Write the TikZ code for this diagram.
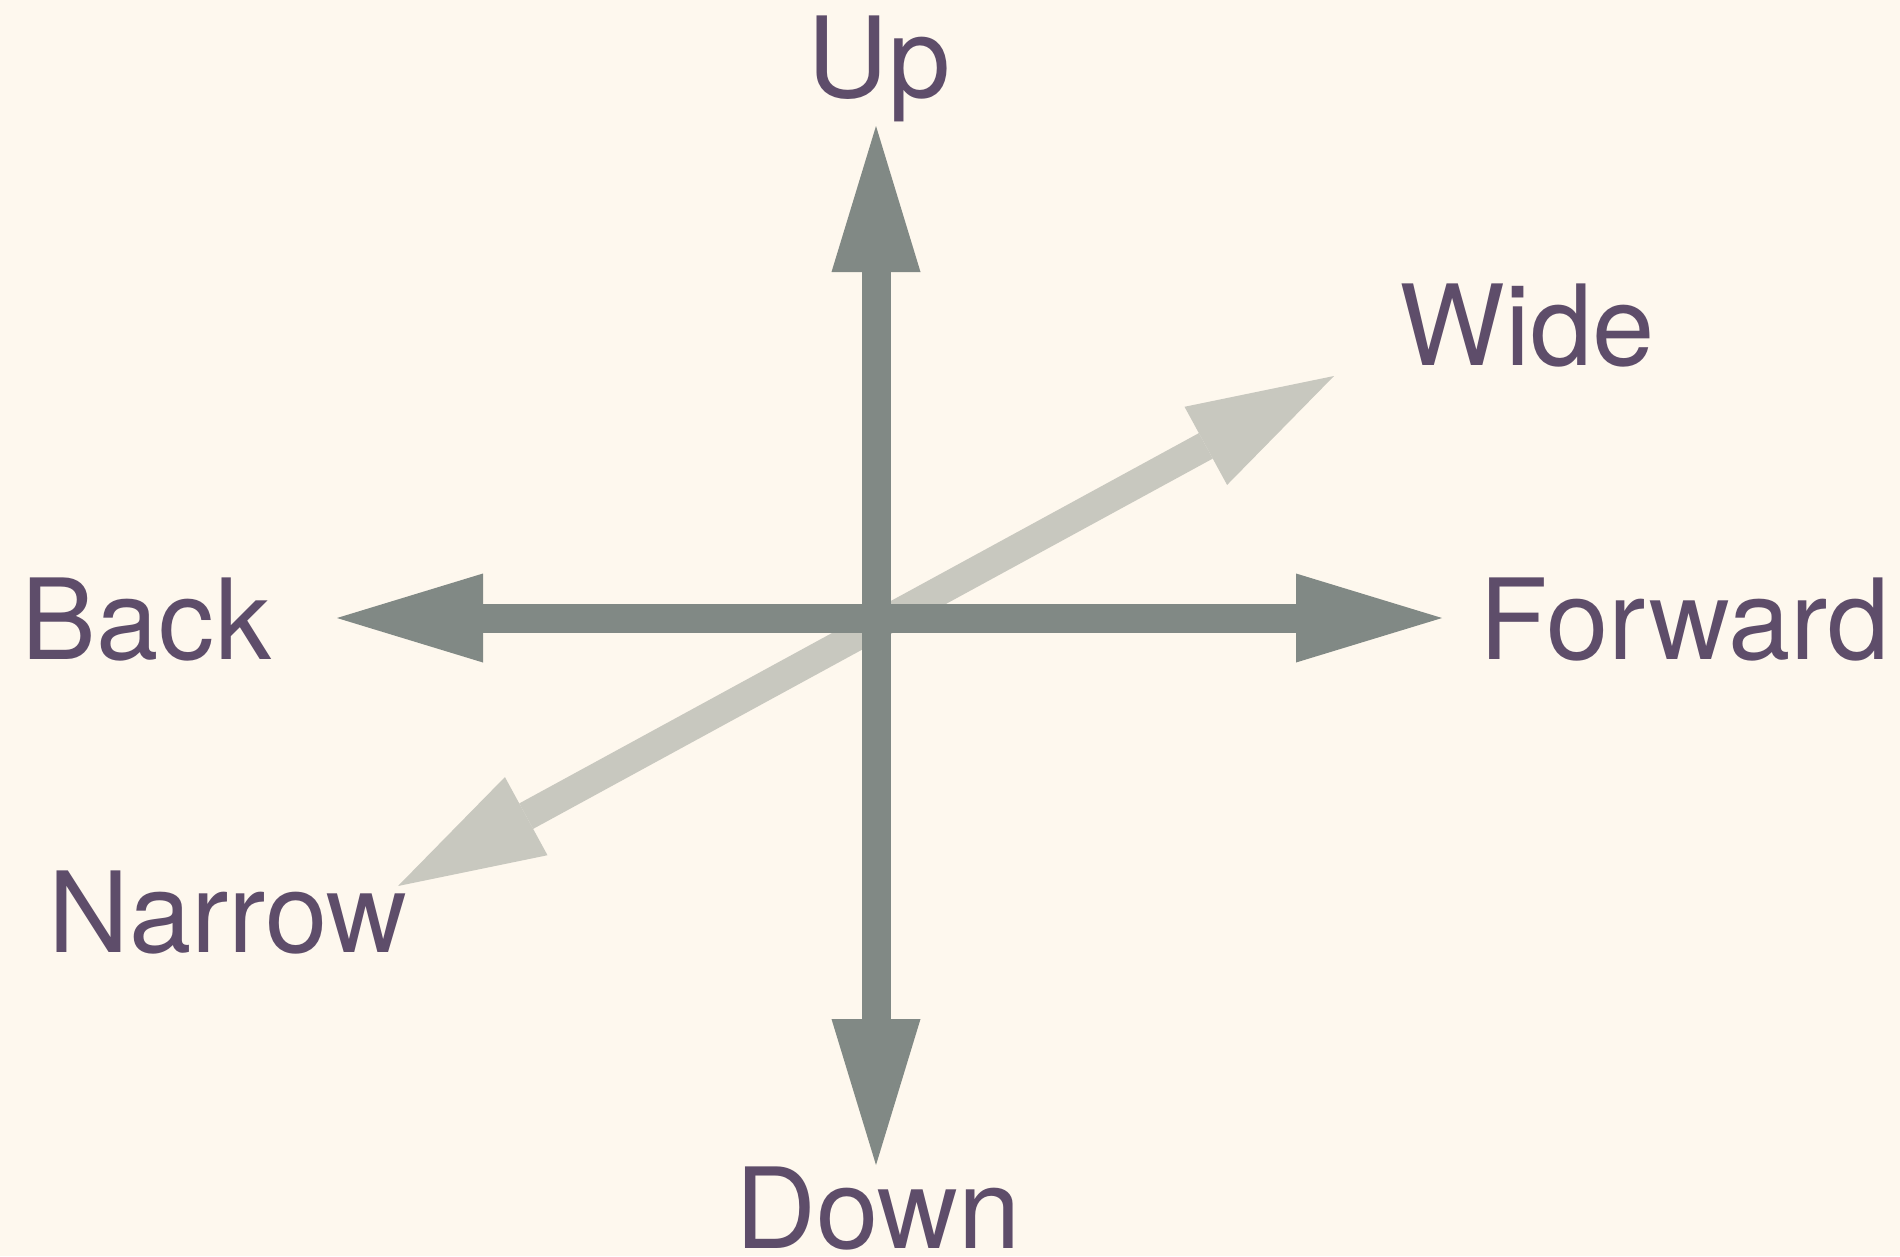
\documentclass[tikz,border=0pt]{standalone}
\usepackage{fontspec}
\setmainfont{TeX Gyre Heros}
\usetikzlibrary{arrows.meta}
\definecolor{bgc}{HTML}{FEF8EE}
\definecolor{darkarrow}{HTML}{818985}
\definecolor{lightarrow}{HTML}{C8C8BF}
\definecolor{labelc}{HTML}{5E4D6A}
\tikzset{
  bigtip/.tip={Triangle[length=146pt,width=89pt,line width=0pt]},
  darkaxis/.style={draw=darkarrow,fill=none,line width=29pt,{bigtip[fill=darkarrow]}-{bigtip[fill=darkarrow]}},
  lightaxis/.style={draw=lightarrow,line width=29pt,{bigtip[fill=lightarrow]}-{bigtip[fill=lightarrow]}},
  lbl/.style={text=labelc,font=\fontsize{112}{130}\selectfont,inner sep=0pt,anchor=base}
}
\begin{document}
\begin{tikzpicture}[x=1pt,y=-1pt]
\fill[bgc] (0,0) rectangle (1900,1256);
\useasboundingbox (0,0) rectangle (1900,1256);
\coordinate (upTip) at (876,126);
\coordinate (downTip) at (876,1165);
\coordinate (backTip) at (337,618);
\coordinate (fwdTip) at (1442,618);
\coordinate (narrowTip) at (398,886);
\coordinate (wideTip) at (1334,376);
\draw[lightaxis] (narrowTip) -- (wideTip);
\draw[darkaxis] (backTip) -- (fwdTip);
\draw[darkaxis] (upTip) -- (downTip);
\node[lbl] (up) at (879,97) {Up};
\node[lbl] (wide) at (1527,365) {Wide};
\node[lbl] (back) at (146.5,659) {Back};
\node[lbl] (forward) at (1685,659) {Forward};
\node[lbl] (narrow) at (228,952.5) {Narrow};
\node[lbl] (down) at (878,1248) {Down};
\end{tikzpicture}
\end{document}
